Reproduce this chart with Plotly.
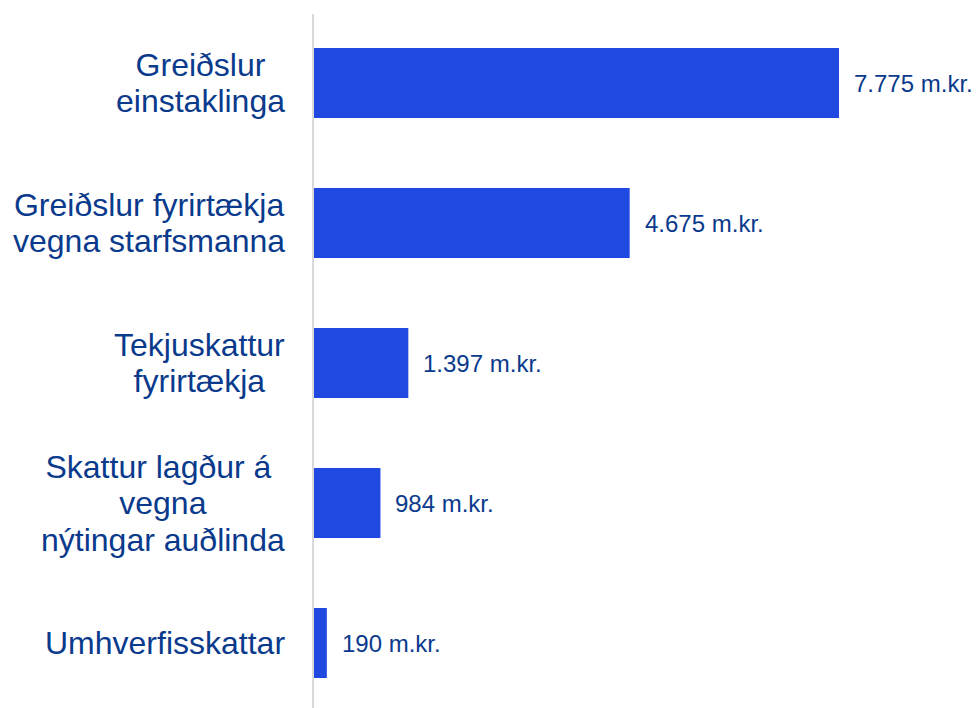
import plotly.graph_objects as go

categories = [
    "Greiðslur<br>einstaklinga",
    "Greiðslur fyrirtækja<br>vegna starfsmanna",
    "Tekjuskattur<br>fyrirtækja",
    "Skattur lagður á <br>vegna<br>nýtingar auðlinda",
    "Umhverfisskattar",
]
values = [7775, 4675, 1397, 984, 190]
value_labels = ["7.775 m.kr.", "4.675 m.kr.", "1.397 m.kr.", "984 m.kr.", "190 m.kr."]

BAR = "#1F49E1"
TXT = "#0A3A8C"
FONT = "Liberation Sans, Arial, sans-serif"

fig = go.Figure(go.Bar(
    x=values, y=categories, orientation="h",
    marker=dict(color=BAR, line=dict(width=0)),
    width=0.5, hoverinfo="x+y",
))

ann = []
for cat in categories:
    lines = cat.split("<br>")
    txt = "<br>".join(f"<span style='font-size:32px'>{l}</span>" for l in lines)
    ann.append(dict(
        x=0, xref="paper", y=cat, yref="y", xanchor="right", yanchor="middle",
        xshift=-27, text=txt, align="center", showarrow=False,
        font=dict(family=FONT, size=28, color=TXT),
    ))
for cat, v, lab in zip(categories, values, value_labels):
    ann.append(dict(
        x=v, xref="x", y=cat, yref="y", xanchor="left", yanchor="middle",
        xshift=13, text=lab, showarrow=False,
        font=dict(family=FONT, size=24, color=TXT),
    ))

fig.update_layout(
    width=972, height=700,
    margin=dict(l=306, r=0, t=6, b=0),
    paper_bgcolor="white", plot_bgcolor="white",
    showlegend=False,
    annotations=ann,
    xaxis=dict(range=[0, 9863], visible=False, showgrid=False, zeroline=False),
    yaxis=dict(
        categoryorder="array", categoryarray=categories,
        range=[4.464, -0.493], showticklabels=False, ticks="",
        showgrid=False, zeroline=False,
        showline=True, linecolor="#D9D9D9", linewidth=2,
    ),
)

fig.write_html("out.html")
